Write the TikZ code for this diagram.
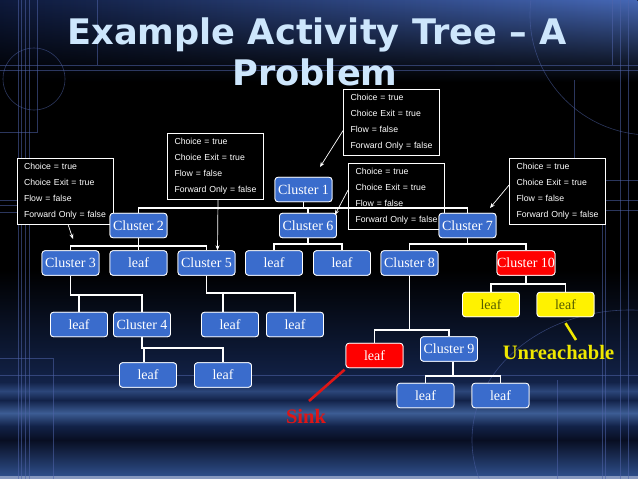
\documentclass[tikz,border=0pt]{standalone}
\usepackage{fontspec}
\setmainfont{Liberation Serif}
\newfontfamily\boxfont{Liberation Sans}
\newfontfamily\titlefont{DejaVu Sans Bold}
\usetikzlibrary{fadings,arrows.meta,calc}
\definecolor{nodeblue}{RGB}{58,108,204}
\definecolor{titlecol}{RGB}{205,230,252}
\definecolor{gridcol}{RGB}{80,100,170}
\definecolor{leafolive}{RGB}{85,92,0}
\definecolor{sinkred}{RGB}{222,22,22}
\definecolor{unreach}{RGB}{240,232,0}
\definecolor{topdark}{RGB}{14,26,60}
\definecolor{topbright}{RGB}{70,104,182}
\definecolor{bgA}{RGB}{18,34,72}
\definecolor{bgB}{RGB}{44,70,122}
\definecolor{bgC}{RGB}{60,92,148}
\definecolor{bgD}{RGB}{8,14,34}
\definecolor{bgE}{RGB}{46,78,138}
\definecolor{bgF}{RGB}{135,152,190}
\tikzfading[name=fadedown, top color=transparent!0, bottom color=transparent!100]
\tikzset{
  tnode/.style={draw=white, line width=0.8pt, rounded corners=3pt, fill=nodeblue, text=white,
    minimum width=57pt, minimum height=24.5pt, inner sep=0pt, font=\fontsize{14}{14}\selectfont},
  rednode/.style={tnode, fill=red},
  yelnode/.style={tnode, fill=yellow, text=leafolive},
  infobox/.style={draw=white, line width=0.8pt, fill=black, text=white, text width=82pt,
    inner xsep=7pt, inner ysep=0pt, minimum height=66pt, align=left,
    font=\boxfont\fontsize{8.7}{16}\selectfont},
  conn/.style={white, line width=1.7pt},
  callout/.style={white, line width=0.7pt, -{Stealth[length=5pt,width=4pt]}},
  gline/.style={gridcol, line width=0.6pt, opacity=0.55},
  titletext/.style={font=\titlefont\fontsize{35.2}{35.2}\selectfont, text=titlecol, inner sep=0pt},
  notetext/.style={font=\bfseries\fontsize{20.5}{20.5}\selectfont, inner sep=0pt}
}
\begin{document}
\begin{tikzpicture}[x=1pt,y=-1pt]
\useasboundingbox (0,0) rectangle (638,479);
\clip (0,0) rectangle (638,479);
% ---------- background ----------
\fill[black] (0,0) rectangle (638,479);
\shade[left color=topdark, right color=topbright, path fading=fadedown] (0,0) rectangle (638,82);
\shade[top color=black, bottom color=bgA] (0,270) rectangle (638,382);
\shade[top color=bgA, bottom color=bgA, middle color=bgB] (0,382) rectangle (638,400);
\shade[top color=bgA, bottom color=bgA, middle color=bgC] (0,400) rectangle (638,426);
\shade[top color=bgA, bottom color=bgD] (0,426) rectangle (638,440);
\shade[top color=bgD, bottom color=bgE] (0,440) rectangle (638,476);
\fill[bgF] (0,476) rectangle (638,479);
% grid lines
\foreach \gx in {18,21,25,29,620,628} \draw[gline] (\gx,0) -- (\gx,479);
\draw[gline] (37,0) -- (37,132) -- (0,132);
\draw[gline] (97,0) -- (97,65);
\draw[gline] (612,0) -- (612,65);
\draw[gline] (0,65) -- (638,65);
\draw[gline] (0,70) -- (638,70);
\foreach \gy in {200,205,212} \draw[gline] (0,\gy) -- (55,\gy);
\draw[gline] (53,479) -- (53,358) -- (0,358);
\draw[gline] (0,375) -- (638,375);
\draw[gline] (574,80) -- (574,212);
\draw[gline] (574,200) -- (638,200);
\draw[gline] (574,210) -- (638,210);
\draw[gline] (602,479) -- (602,180) -- (638,180);
\draw[gline] (605,180) -- (605,479);
\draw[gline] (557,380) -- (557,479);
\draw[gline] (34,79) circle (31);
\draw[gline] (650,15) circle (120);
\draw[gline] (630,440) ellipse (158 and 130);
% ---------- title ----------
\node[titletext, anchor=base] (t1) at (317,45) {Example Activity Tree – A};
\node[titletext, anchor=base] (t2) at (315,85.5) {Problem};
% ---------- callout boxes ----------
\node[infobox] (bA) at (65,191) {Choice = true\\Choice Exit = true\\Flow = false\\Forward Only = false};
\node[infobox] (bB) at (215.5,166) {Choice = true\\Choice Exit = true\\Flow = false\\Forward Only = false};
\node[infobox] (bC) at (391.5,122.5) {Choice = true\\Choice Exit = true\\Flow = false\\Forward Only = false};
\node[infobox] (bD) at (396.5,196) {Choice = true\\Choice Exit = true\\Flow = false\\Forward Only = false};
\node[infobox] (bE) at (557.5,191.5) {Choice = true\\Choice Exit = true\\Flow = false\\Forward Only = false};
% ---------- tree nodes (placed, drawn later) ----------
\path
  (303.5,189.5) node[tnode] (c1) {Cluster 1}
  (138.5,225.5) node[tnode] (c2) {Cluster 2}
  (308,225.5)   node[tnode] (c6) {Cluster 6}
  (467.5,225.5) node[tnode] (c7) {Cluster 7}
  (70.5,263)    node[tnode] (c3) {Cluster 3}
  (138.5,263)   node[tnode] (l2) {leaf}
  (206.5,263)   node[tnode] (c5) {Cluster 5}
  (274,263)     node[tnode] (l6a) {leaf}
  (342,263)     node[tnode] (l6b) {leaf}
  (409.5,263)   node[tnode] (c8) {Cluster 8}
  (526,263)     node[rednode] (c10) {Cluster 10}
  (79,324.5)    node[tnode] (l3) {leaf}
  (142,324.5)   node[tnode] (c4) {Cluster 4}
  (230,324.5)   node[tnode] (l5a) {leaf}
  (295,324.5)   node[tnode] (l5b) {leaf}
  (491,304.5)   node[yelnode] (y10a) {leaf}
  (565.5,304.5) node[yelnode] (y10b) {leaf}
  (374.5,355.5) node[rednode] (rl) {leaf}
  (449,349)     node[tnode] (c9) {Cluster 9}
  (148,375)     node[tnode] (l4a) {leaf}
  (223,375)     node[tnode] (l4b) {leaf}
  (425.5,395.5) node[tnode] (l9a) {leaf}
  (500.5,395.5) node[tnode] (l9b) {leaf};
% ---------- connectors ----------
\foreach \ch in {c2,c6,c7} \draw[conn] (c1.south) |- (\ch.north |- 0,208) -- (\ch.north);
\foreach \ch in {c3,l2,c5} \draw[conn] (c2.south) |- (\ch.north |- 0,246) -- (\ch.north);
\foreach \ch in {l6a,l6b} \draw[conn] (c6.south) |- (\ch.north |- 0,244) -- (\ch.north);
\foreach \ch in {c8,c10} \draw[conn] (c7.south) |- (\ch.north |- 0,244) -- (\ch.north);
\foreach \ch in {l3,c4} \draw[conn] (c3.south) |- (\ch.north |- 0,295) -- (\ch.north);
\draw[conn] (c5.south) |- ([xshift=-7pt]l5a.north |- 0,293) -- ([xshift=-7pt]l5a.north);
\draw[conn] (c5.south) |- (l5b.north |- 0,293) -- (l5b.north);
\draw[conn] (c4.south) |- ([xshift=-4pt]l4a.north |- 0,348) -- ([xshift=-4pt]l4a.north);
\draw[conn] (c4.south) |- (l4b.north |- 0,348) -- (l4b.north);
\foreach \ch in {rl,c9} \draw[conn] (c8.south) |- (\ch.north |- 0,330) -- (\ch.north);
\foreach \ch in {y10a,y10b} \draw[conn] (c10.south) |- (\ch.north |- 0,284) -- (\ch.north);
\foreach \ch in {l9a,l9b} \draw[conn] ([xshift=4pt]c9.south) |- (\ch.north |- 0,376) -- (\ch.north);
% ---------- redraw nodes on top ----------
\foreach \n/\s/\t in {c1/tnode/Cluster 1, c2/tnode/Cluster 2, c6/tnode/Cluster 6, c7/tnode/Cluster 7,
  c3/tnode/Cluster 3, l2/tnode/leaf, c5/tnode/Cluster 5, l6a/tnode/leaf, l6b/tnode/leaf,
  c8/tnode/Cluster 8, c10/rednode/Cluster 10, l3/tnode/leaf, c4/tnode/Cluster 4, l5a/tnode/leaf,
  l5b/tnode/leaf, y10a/yelnode/leaf, y10b/yelnode/leaf, rl/rednode/leaf, c9/tnode/Cluster 9,
  l4a/tnode/leaf, l4b/tnode/leaf, l9a/tnode/leaf, l9b/tnode/leaf}
  \node[\s] at (\n.center) {\t};
% ---------- callout arrows ----------
\coordinate (tipA) at (73,239);
\coordinate (tipC) at (320,167);
\coordinate (tipE) at (490,208);
\draw[callout] ([xshift=3pt]bA.south) -- (tipA);
\draw[callout] ([xshift=2.5pt]bB.south) -- ([xshift=11pt]c5.north);
\draw[callout] ([yshift=-8pt]bC.west) -- (tipC);
\draw[callout] ([yshift=6pt]bD.west) -- ([xshift=-2pt,yshift=-2pt]c6.north east);
\draw[callout] ([yshift=6.5pt]bE.west) -- (tipE);
% ---------- annotations ----------
\node[notetext, text=sinkred] (sink) at (306,416) {Sink};
\node[notetext, text=unreach] (unr) at (558.5,352) {Unreachable};
\coordinate (sinktip) at (309,401);
\coordinate (unrtip) at (576,340);
\draw[sinkred, line width=2.6pt] ([shift={(-1pt,-1.5pt)}]rl.south west) -- (sinktip);
\draw[unreach, line width=2.6pt] ([yshift=-6pt]y10b.south) -- (unrtip);
\end{tikzpicture}
\end{document}
